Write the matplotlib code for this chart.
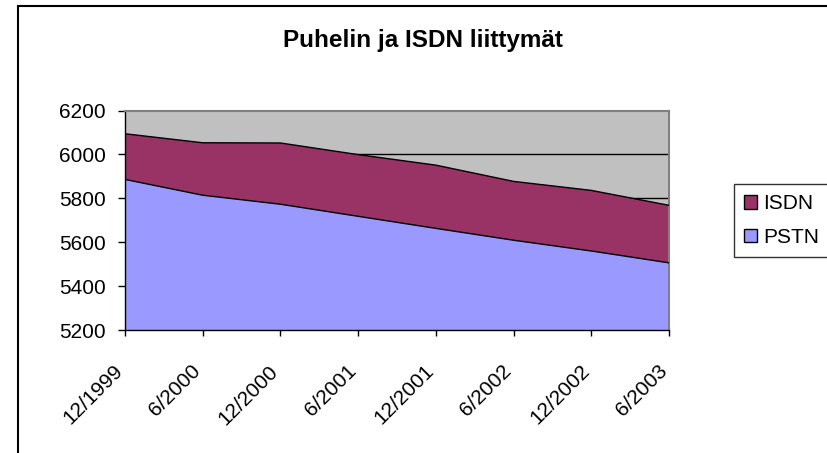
import matplotlib
matplotlib.use("Agg")
import matplotlib.pyplot as plt
from matplotlib.patches import Rectangle, Patch
from matplotlib.transforms import ScaledTranslation

plt.rcParams['font.family'] = ['Liberation Sans', 'DejaVu Sans']

categories = ["12/1999", "6/2000", "12/2000", "6/2001", "12/2001", "6/2002", "12/2002", "6/2003"]
pstn = [5886, 5814, 5773, 5718, 5663, 5609, 5560, 5506]
isdn = [208, 239, 279, 281, 288, 268, 276, 262]
yticks = [5200, 5400, 5600, 5800, 6000, 6200]

W, H = 827, 453
fig = plt.figure(figsize=(W / 100, H / 100), dpi=100)
fig.patch.set_facecolor("white")

# outer chart border
fig.patches.append(Rectangle((18 / W, -0.1), 1.2, (H - 6) / H + 0.1, transform=fig.transFigure,
                             fill=False, edgecolor="black", linewidth=1.5))

left, right, top, bottom = 125, 669, 110.5, 330
ax = fig.add_axes([left / W, 1 - bottom / H, (right - left) / W, (bottom - top) / H])
ax.set_facecolor("#C0C0C0")

x = list(range(len(categories)))
total = [p + i for p, i in zip(pstn, isdn)]

for yv in yticks[1:-1]:
    ax.axhline(yv, color="black", linewidth=1, zorder=1)

ax.fill_between(x, 5200, pstn, facecolor="#9999FF", edgecolor="none", zorder=2)
ax.fill_between(x, pstn, total, facecolor="#993366", edgecolor="none", zorder=2)
ax.plot(x, pstn, color="black", linewidth=1, zorder=3)
ax.plot(x, total, color="black", linewidth=1, zorder=3)

FS = 15
ax.set_xlim(0, len(categories) - 1)
ax.set_ylim(5200, 6200)
ax.set_yticks(yticks)
ax.set_yticklabels([str(v) for v in yticks], fontsize=FS)
ax.set_xticks(x)
ax.set_xticklabels(categories, rotation=45, ha="right", va="center", rotation_mode="anchor", fontsize=FS)
ax.tick_params(axis="y", direction="out", length=5, width=1, color="black", pad=9)
ax.tick_params(axis="x", direction="out", length=4.5, width=1, color="black", pad=23)
off = ScaledTranslation(-5 / 100, 0, fig.dpi_scale_trans)
for lbl in ax.get_xticklabels():
    lbl.set_transform(lbl.get_transform() + off)

for s in ["top", "right"]:
    ax.spines[s].set_color("#808080")
    ax.spines[s].set_linewidth(1.5)
for s in ["left", "bottom"]:
    ax.spines[s].set_color("black")
    ax.spines[s].set_linewidth(1)

fig.text(423 / W, 1 - 41 / H, "Puhelin ja ISDN liittymät", ha="center", va="center",
         fontsize=17.5, fontweight="bold")

handles = [Patch(facecolor="#993366", edgecolor="black", label="ISDN"),
           Patch(facecolor="#9999FF", edgecolor="black", label="PSTN")]
leg = fig.legend(handles=handles, loc="upper left", bbox_to_anchor=(734 / W, 1 - 184 / H),
                 fontsize=FS, frameon=True, fancybox=False, edgecolor="black",
                 handlelength=0.6, handleheight=0.6, handletextpad=0.3, borderpad=0.5,
                 labelspacing=0.7, borderaxespad=0)
leg.get_frame().set_linewidth(1)

fig.savefig("out.png", dpi=100)
